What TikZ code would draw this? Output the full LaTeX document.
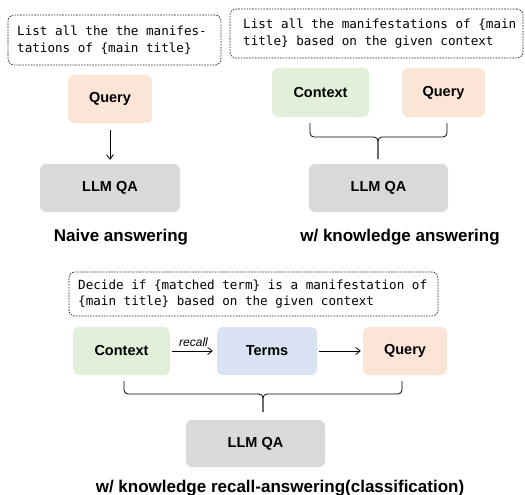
\documentclass[tikz,border=0pt]{standalone}
\usepackage{fontspec}
\setmainfont{Liberation Sans}
\newfontfamily\monof{DejaVu Sans Mono}
\usetikzlibrary{arrows.meta}
\definecolor{qcol}{HTML}{FBE5D6}
\definecolor{ccol}{HTML}{E2F0D9}
\definecolor{tcol}{HTML}{DAE3F3}
\definecolor{lcol}{HTML}{D9D9D9}
\tikzset{
  box/.style={rounded corners=6pt, inner sep=0pt, font=\fontsize{14.5}{17}\selectfont\bfseries, text=black},
  prompt/.style={draw=black!85, dash pattern=on 1.6pt off 1.2pt, line width=0.7pt, rounded corners=6pt, inner sep=0pt},
  ptext/.style={anchor=west, align=left, inner sep=0pt, font=\monof\fontsize{12.6}{16.5}\selectfont},
  captext/.style={font=\fontsize{17}{20}\selectfont\bfseries},
  arr/.style={-{Straight Barb[length=4.5pt,width=7pt]}, line width=0.8pt},
  brace/.style={line width=0.8pt, rounded corners=4pt}
}
\begin{document}
\begin{tikzpicture}[x=1pt,y=-1pt]
\useasboundingbox (0,0) rectangle (525,495);
% panel 1
\node[prompt, minimum width=213pt, minimum height=50pt] (d1) at (114.5,40) {};
\node[ptext] (d1t) at (17,40) {List all the the manifes-\\tations of \{main title\}};
\node[box, fill=qcol, minimum width=84pt, minimum height=48pt] (q1) at (110,99) {Query};
\node[box, fill=lcol, minimum width=140pt, minimum height=48pt] (l1) at (110,188) {LLM QA};
\draw[arr, shorten <=7pt, shorten >=4pt] (q1) -- (q1 |- l1.north);
\node[captext] (cap1) at (121,237) {Naive answering};
% panel 2
\node[prompt, minimum width=293pt, minimum height=49pt] (d2) at (376.5,33.5) {};
\node[ptext] (d2t) at (243,33.5) {List all the manifestations of \{main\\title\} based on the given context};
\node[box, fill=ccol, minimum width=97pt, minimum height=49pt] (c2) at (320.5,92.5) {Context};
\node[box, fill=qcol, minimum width=83pt, minimum height=49pt] (q2) at (443.5,92.5) {Query};
\node[box, fill=lcol, minimum width=139pt, minimum height=48pt] (l2) at (378.5,188) {LLM QA};
\coordinate (b2l) at (310,123);
\coordinate (b2r) at (447,123);
\coordinate (b2c) at (378,137);
\coordinate (b2b) at (378,159);
\draw[brace] (b2l) -- (b2l |- b2c) -- (b2c) -- (b2b);
\draw[brace] (b2r) -- (b2r |- b2c) -- (b2c) -- (b2b);
\node[captext] (cap2) at (400,237) {w/ knowledge answering};
% panel 3
\node[prompt, minimum width=369pt, minimum height=44pt] (d3) at (253.5,294) {};
\node[ptext] (d3t) at (78,294) {Decide if \{matched term\} is a manifestation of\\\{main title\} based on the given context};
\node[box, fill=ccol, minimum width=97pt, minimum height=48pt] (c3) at (121.5,351) {Context};
\node[box, fill=tcol, minimum width=100pt, minimum height=48pt] (t3) at (267,351) {Terms};
\node[box, fill=qcol, minimum width=84pt, minimum height=48pt] (q3) at (405,351) {Query};
\draw[arr, shorten <=2pt, shorten >=4pt] (c3) -- node[above=1pt, font=\fontsize{12}{14}\selectfont\itshape] (rl) {recall} (t3);
\draw[arr, shorten <=2pt, shorten >=2pt] (t3) -- (q3);
\node[box, fill=lcol, minimum width=139pt, minimum height=47pt] (l3) at (255.5,443.5) {LLM QA};
\coordinate (b3l) at (124,381);
\coordinate (b3r) at (402,381);
\coordinate (b3c) at (263,394);
\coordinate (b3b) at (263,412);
\draw[brace] (b3l) -- (b3l |- b3c) -- (b3c) -- (b3b);
\draw[brace] (b3r) -- (b3r |- b3c) -- (b3c) -- (b3b);
\node[captext] (cap3) at (280,488) {w/ knowledge recall-answering(classification)};
\end{tikzpicture}
\end{document}
